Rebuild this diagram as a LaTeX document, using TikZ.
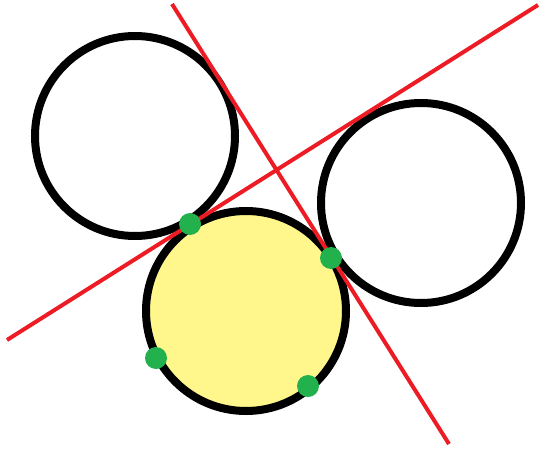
\documentclass[tikz,border=0pt]{standalone}
\usepackage{xcolor}
\usepackage{tikz}
\usetikzlibrary{calc}

\definecolor{paintred}{RGB}{237,28,36}
\definecolor{paintgreen}{RGB}{34,177,76}
\definecolor{paleyellow}{RGB}{255,247,140}

\begin{document}
\begin{tikzpicture}[
  x=0.5pt,y=-0.5pt,
  ring/.style={draw=black,line width=4pt},
  tangent/.style={draw=paintred,line width=2pt},
  touch/.style={circle,fill=paintgreen,inner sep=0pt,minimum size=11pt}
]
\useasboundingbox (0,0) rectangle (540,449);
\coordinate (left) at (135,136);
\coordinate (right) at (421,203);
\coordinate (mid) at (246,311);
\coordinate (steepA) at (172,4);
\coordinate (steepB) at (449,444);
\coordinate (flatA) at (7,340);
\coordinate (flatB) at (538,5);
\draw[ring,fill=paleyellow] (mid) circle (100);
\draw[ring] (left) circle (100);
\draw[ring] (right) circle (100);
\draw[tangent] (steepA) -- (steepB);
\draw[tangent] (flatA) -- (flatB);
\node[touch] (p1) at (190,224) {};
\node[touch] (p2) at (331,258) {};
\node[touch] (p3) at (156,358) {};
\node[touch] (p4) at (308,386) {};
\end{tikzpicture}
\end{document}
